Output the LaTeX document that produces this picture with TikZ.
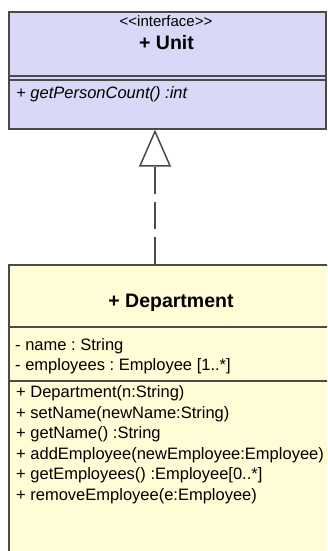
\documentclass[tikz,border=0pt]{standalone}
\usepackage{fontspec}
\setmainfont{Liberation Sans}
\usetikzlibrary{arrows.meta}
\definecolor{ifill}{HTML}{D9D9F7}
\definecolor{cfill}{HTML}{FFFCD6}
\definecolor{edge}{HTML}{4A4A4A}
\tikzset{
  box/.style={draw=edge, line width=1.6pt, anchor=north west, inner sep=0pt},
  sepline/.style={draw=edge, line width=1.6pt},
  thinsep/.style={draw=edge, line width=1.2pt},
  member/.style={anchor=base west, inner sep=0pt, font=\fontsize{16.5}{19}\selectfont},
  title/.style={anchor=base, inner sep=0pt, font=\fontsize{19.5}{23}\selectfont\bfseries},
  stereo/.style={anchor=base, inner sep=0pt, font=\fontsize{15}{18}\selectfont},
  realize/.style={draw=edge, line width=1.6pt, dash pattern=on 27pt off 8pt,
    -{Triangle[open, width=32pt, length=37pt, line width=1.5pt]}}
}
\begin{document}
\frenchspacing
\begin{tikzpicture}[x=1pt, y=-1pt]
\useasboundingbox (0,0) rectangle (327,551);
\clip (0,0) rectangle (327,551);
% interface box
\node[box, fill=ifill, minimum width=317pt, minimum height=117pt] (unit) at (8,11) {};
\node[stereo] (ster) at (166,27) {{<}{<}interface{>}{>}};
\node[title] (uname) at (166.5,50) {+ Unit};
\draw[thinsep] (8,76) -- (325,76);
\draw[thinsep] (8,80) -- (325,80);
\node[member, font=\fontsize{16.5}{19}\selectfont\itshape] (m1) at (16,98) {+ getPersonCount() :int};
% class box
\node[box, fill=cfill, minimum width=326pt, minimum height=300pt] (dept) at (8,264) {};
\node[title] (dname) at (171,307) {+ Department};
\draw[sepline] (8,327) -- (340,327);
\node[member] (a1) at (15,350.5) {- name : String};
\node[member] (a2) at (15,370.5) {- employees : Employee [1..*]};
\draw[sepline] (8,381) -- (340,381);
\node[member] (o1) at (16,397.5) {+ Department(n:String)};
\node[member] (o2) at (16,418) {+ setName(newName:String)};
\node[member] (o3) at (16,438.5) {+ getName() :String};
\node[member] (o4) at (16,459) {+ addEmployee(newEmployee:Employee)};
\node[member] (o5) at (16,479.5) {+ getEmployees() :Employee[0..*]};
\node[member] (o6) at (16,500) {+ removeEmployee(e:Employee)};
% realization
\coordinate (ax) at (155,0);
\draw[realize] (ax |- dept.north) -- (ax |- unit.south);
\end{tikzpicture}
\end{document}
